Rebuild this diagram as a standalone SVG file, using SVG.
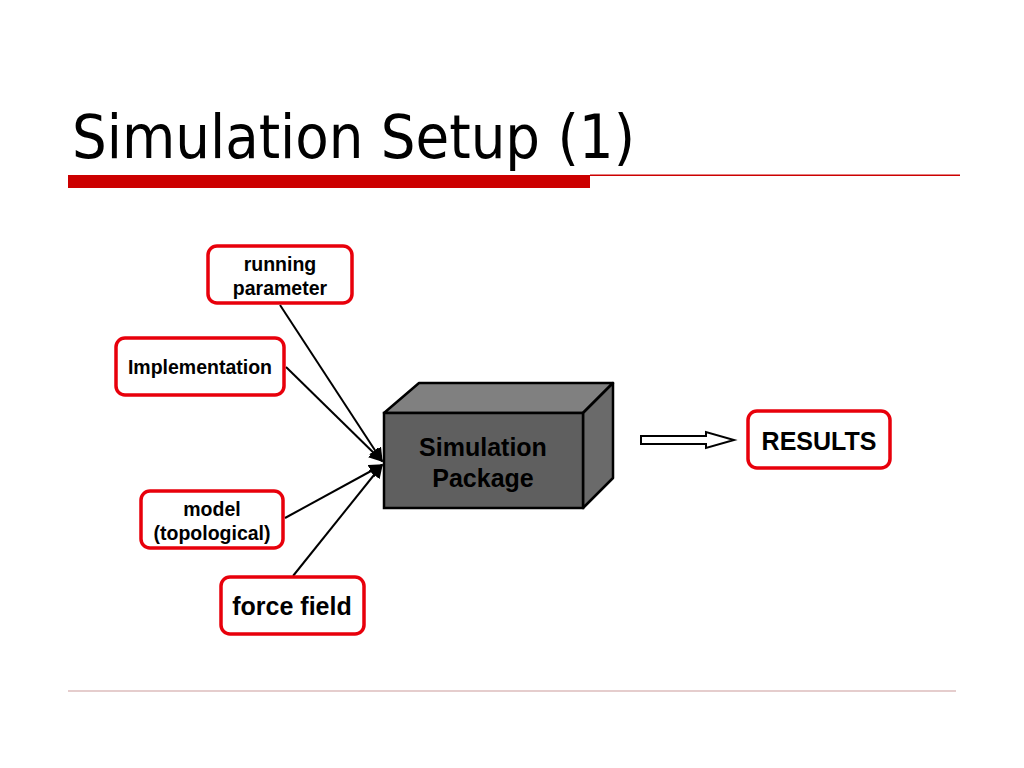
<svg xmlns="http://www.w3.org/2000/svg" width="1024" height="768" viewBox="0 0 1024 768">
<style>
.node rect{fill:#fff;stroke:#e8000b;stroke-width:3.5}
.lbl{font-family:"Liberation Sans",Arial,sans-serif;font-weight:bold;fill:#000;text-anchor:middle}
.sm{font-size:19.5px}
.lg{font-size:25px}
.conn line{stroke:#000;stroke-width:2}
</style>
<defs>
<marker id="ah2" viewBox="0 0 10 10" refX="9" refY="5" markerWidth="14" markerHeight="14" markerUnits="userSpaceOnUse" orient="auto"><path d="M0,0 L10,5 L0,10 Z" fill="#000"/></marker>
</defs>
<rect width="1024" height="768" fill="#fff"/>
<text x="72" y="158" font-family="DejaVu Sans Condensed,DejaVu Sans,sans-serif" font-size="60" textLength="563" lengthAdjust="spacingAndGlyphs" fill="#000">Simulation Setup (1)</text>
<rect x="68" y="175" width="522" height="13" fill="#cc0000"/>
<rect x="590" y="174.5" width="370" height="1.5" fill="#cc0000"/>
<line x1="68" y1="691" x2="956" y2="691" stroke="#dcbcbc" stroke-width="1.5"/>

<g class="conn">
<line x1="280" y1="305" x2="382" y2="461" marker-end="url(#ah2)"/>
<line x1="286" y1="367" x2="382" y2="461" marker-end="url(#ah2)"/>
<line x1="285" y1="518" x2="382" y2="465" marker-end="url(#ah2)"/>
<line x1="293" y1="576" x2="382" y2="465" marker-end="url(#ah2)"/>
<polygon points="641,436 706,436 706,432 734,440 706,448 706,444 641,444" fill="#fff" stroke="#000" stroke-width="2"/>
</g>

<g id="running-parameter" class="node">
<rect x="208" y="246" width="144" height="57" rx="9"/>
<text class="lbl sm" x="280" y="271">running</text>
<text class="lbl sm" x="280" y="295">parameter</text>
</g>
<g id="implementation" class="node">
<rect x="116" y="338" width="168" height="57" rx="9"/>
<text class="lbl sm" x="200" y="374">Implementation</text>
</g>
<g id="model" class="node">
<rect x="141" y="491" width="142" height="57" rx="9"/>
<text class="lbl sm" x="212" y="516">model</text>
<text class="lbl sm" x="212" y="540">(topological)</text>
</g>
<g id="force-field" class="node">
<rect x="221" y="577" width="143" height="57" rx="9"/>
<text class="lbl lg" x="292" y="615">force field</text>
</g>
<g id="results" class="node">
<rect x="748" y="411" width="142" height="57" rx="9"/>
<text class="lbl lg" x="819" y="450">RESULTS</text>
</g>
<g id="simulation-package">
<polygon points="384,413 419,383 613,383 583,413" fill="#808080" stroke="#000" stroke-width="2.5" stroke-linejoin="round"/>
<polygon points="583,413 613,383 613,478 583,508" fill="#6a6a6a" stroke="#000" stroke-width="2.5" stroke-linejoin="round"/>
<rect x="384" y="413" width="199" height="95" fill="#5f5f5f" stroke="#000" stroke-width="2.5"/>
<text class="lbl lg" x="483" y="456" fill="#1a1a1a">Simulation</text>
<text class="lbl lg" x="483" y="487" fill="#1a1a1a">Package</text>
</g>
</svg>
